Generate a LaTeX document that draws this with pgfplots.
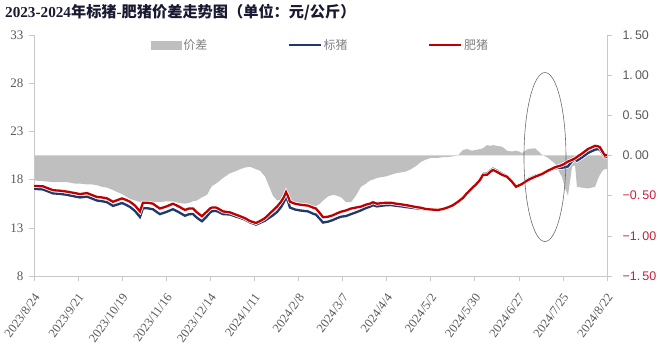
\documentclass[border=0pt]{standalone}
\usepackage{pgfplots}
\pgfplotsset{compat=1.18}
\usepackage{pgfplotstable}
\usepackage{fontspec}
\setmainfont{Liberation Serif}
\newfontfamily\cjk{Noto Sans CJK SC}
\newfontfamily\arialf{Liberation Sans}

\definecolor{spreadgray}{RGB}{191,191,191}
\definecolor{stdblue}{RGB}{31,56,110}
\definecolor{fatred}{RGB}{192,0,0}
\definecolor{axisgray}{RGB}{200,200,200}
\definecolor{labelgray}{RGB}{89,89,89}
\definecolor{legendgray}{RGB}{128,128,128}
\definecolor{negred}{RGB}{200,30,60}
\definecolor{titlecol}{RGB}{25,25,50}

% day = days since 2023/8/24; fat = 肥猪, std = 标猪, spread = 标猪 - 肥猪 (元/公斤)
\pgfplotstableread{
day fat std spread
0 17.35 17.04 -0.31
5.7 17.30 16.98 -0.32
12.1 16.90 16.57 -0.33
16.5 16.85 16.52 -0.33
21.0 16.75 16.42 -0.33
26.0 16.60 16.25 -0.35
29.2 16.50 16.15 -0.35
33.7 16.60 16.24 -0.36
36.8 16.40 16.04 -0.36
40.0 16.20 15.83 -0.37
43.2 16.15 15.76 -0.39
46.4 16.05 15.65 -0.40
50.2 15.70 15.27 -0.43
53.4 15.90 15.44 -0.46
55.9 16.05 15.57 -0.48
58.4 15.90 15.39 -0.51
61.0 15.70 15.16 -0.54
64.2 15.30 14.74 -0.56
67.3 14.70 14.12 -0.58
69.2 15.60 15.02 -0.58
72.4 15.60 15.02 -0.58
75.6 15.50 14.92 -0.58
78.1 15.20 14.62 -0.58
80.0 15.00 14.42 -0.58
83.9 15.20 14.63 -0.57
88.3 15.50 14.93 -0.57
92.1 15.20 14.61 -0.59
95.9 14.85 14.25 -0.60
98.5 15.00 14.41 -0.59
101.0 15.00 14.43 -0.57
103.5 14.60 14.04 -0.56
106.7 14.20 13.68 -0.52
109.9 14.70 14.21 -0.49
111.8 15.00 14.58 -0.42
113.1 15.10 14.72 -0.38
115.6 15.10 14.75 -0.35
116.9 15.00 14.67 -0.33
120.1 14.70 14.42 -0.28
124.5 14.60 14.38 -0.22
127.7 14.40 14.20 -0.20
130.9 14.20 14.03 -0.17
134.0 14.00 13.85 -0.15
137.2 13.70 13.56 -0.14
141.0 13.50 13.33 -0.17
143.6 13.70 13.51 -0.19
146.7 14.00 13.74 -0.26
149.9 14.50 14.09 -0.41
151.8 14.80 14.30 -0.50
154.4 15.20 14.64 -0.56
156.9 15.70 15.15 -0.55
158.8 16.20 15.68 -0.52
160.1 16.70 16.22 -0.48
161.3 16.30 15.75 -0.55
162.6 15.70 15.10 -0.60
165.8 15.50 14.90 -0.60
169.0 15.40 14.80 -0.60
174.1 15.30 14.70 -0.60
177.2 15.10 14.47 -0.63
179.1 15.00 14.37 -0.63
181.7 14.50 13.90 -0.60
183.6 14.10 13.54 -0.56
186.8 14.15 13.64 -0.51
189.9 14.30 13.81 -0.49
192.5 14.50 14.00 -0.50
195.0 14.67 14.15 -0.52
198.2 14.80 14.22 -0.58
201.4 15.00 14.42 -0.58
204.5 15.10 14.60 -0.50
207.7 15.20 14.81 -0.39
210.9 15.40 15.05 -0.35
213.4 15.50 15.19 -0.31
215.3 15.65 15.35 -0.30
217.9 15.50 15.22 -0.28
220.4 15.55 15.28 -0.27
223.6 15.60 15.34 -0.26
226.8 15.60 15.36 -0.24
230.0 15.50 15.28 -0.22
233.1 15.44 15.23 -0.21
236.3 15.35 15.15 -0.20
239.5 15.26 15.09 -0.17
242.7 15.15 15.02 -0.13
245.8 15.08 15.00 -0.08
249.0 14.95 14.90 -0.05
252.2 14.90 14.87 -0.03
256.6 14.85 14.82 -0.03
259.8 14.95 14.93 -0.02
263.0 15.12 15.10 -0.02
266.2 15.35 15.34 -0.01
269.3 15.70 15.70 0.00
272.5 16.10 16.17 0.07
275.1 16.60 16.68 0.08
278.2 17.10 17.16 0.06
280.8 17.50 17.57 0.07
283.3 17.96 18.04 0.08
285.2 18.50 18.59 0.09
287.8 18.50 18.63 0.13
289.7 18.80 18.92 0.12
291.6 19.00 19.13 0.13
294.1 18.80 18.92 0.12
297.3 18.50 18.61 0.11
300.5 18.30 18.36 0.06
303.6 17.78 17.83 0.05
306.2 17.26 17.32 0.06
308.1 17.40 17.45 0.05
310.0 17.54 17.57 0.03
313.8 17.96 18.04 0.08
318.3 18.30 18.39 0.09
322.7 18.58 18.59 0.01
326.5 18.93 18.90 -0.03
331.0 19.28 19.18 -0.10
335.4 19.50 19.23 -0.27
337.3 19.68 19.28 -0.40
339.2 19.87 19.37 -0.50
341.8 20.05 19.91 -0.14
343.7 20.20 20.08 -0.12
344.9 20.35 19.96 -0.39
348.1 20.70 20.30 -0.40
351.9 21.17 20.76 -0.41
356.4 21.50 21.11 -0.39
358.3 21.45 21.16 -0.29
359.5 21.35 21.11 -0.24
361.5 20.80 20.62 -0.18
362.7 20.50 20.33 -0.17
364.0 20.55 20.38 -0.17
}\pricedata

\pgfplotsset{
  commonaxis/.style={
    at={(0pt,0pt)}, anchor=south west,
    scale only axis, width=573pt, height=241pt,
    xmin=0, xmax=364,
    axis line style={draw=axisgray},
    tick style={draw=axisgray, line width=0.6pt},
    major tick length=5pt,
    tick align=outside,
  }
}

\begin{document}
\begin{tikzpicture}
\useasboundingbox (-34pt,-74pt) rectangle (626pt,276pt);

% spread area on the right-hand scale
\begin{axis}[commonaxis,
  axis y line*=right, axis x line=none, xtick=\empty,
  ymin=-1.5, ymax=1.5,
  ytick={-1.5,-1,-0.5,0,0.5,1,1.5},
  yticklabels={\textcolor{negred}{−1.\,50},\textcolor{negred}{−1.\,00},\textcolor{negred}{−0.\,50},0.\,00,0.\,50,1.\,00,1.\,50},
  yticklabel style={font=\arialf\fontsize{12.5}{13}\selectfont, text=labelgray, anchor=west, xshift=7pt},
]
\addplot[fill=spreadgray, draw=none] table[x=day, y=spread]{\pricedata} \closedcycle;
\end{axis}

% price lines on the left-hand scale
\begin{axis}[commonaxis,
  axis y line*=left, axis x line*=bottom,
  ymin=8, ymax=33, ytick={8,13,18,23,28,33},
  yticklabel style={font=\fontsize{13}{13}\selectfont, text=labelgray,
    /pgf/number format/assume math mode=true, xshift=-2pt},
  xtick={0,28,...,364},
  xticklabels={2023/8/24,2023/9/21,2023/10/19,2023/11/16,2023/12/14,2024/1/11,2024/2/8,2024/3/7,2024/4/4,2024/5/2,2024/5/30,2024/6/27,2024/7/25,2024/8/22},
  xticklabel style={font=\fontsize{12.5}{13}\selectfont, text=labelgray,
    yshift=-11pt, xshift=5pt, rotate=54, anchor=east},
  legend columns=3,
  legend image code/.code={\draw[#1] (0pt,0pt) -- (32pt,0pt);},
  legend style={draw=none, fill=none, at={(0.5,0.958)}, anchor=center,
    font=\cjk\fontsize{12}{12}\selectfont, text=legendgray,
    /tikz/every even column/.append style={column sep=78pt}},
]
\addlegendimage{legend image code/.code={\fill[spreadgray] (0pt,-4pt) rectangle (30pt,4pt);}}
\addlegendentry{价差}
\addplot[white, line width=3.8pt, forget plot] table[x=day, y=std]{\pricedata};
\addplot[stdblue, line width=2.3pt] table[x=day, y=std]{\pricedata};
\addlegendentry{标猪}
\addplot[white, line width=3.8pt, forget plot] table[x=day, y=fat]{\pricedata};
\addplot[fatred, line width=2.3pt] table[x=day, y=fat]{\pricedata};
\addlegendentry{肥猪}
\draw[draw=gray!85!black, line width=0.6pt] (axis cs:324.6,20.34) ellipse [x radius=21pt, y radius=84.5pt];
\end{axis}

\node[anchor=west, text=titlecol, font=\bfseries\fontsize{15.2}{16}\selectfont, inner sep=0pt]
  at (-29pt,264pt) {2023-2024{\cjk 年标猪}-{\cjk 肥猪价差走势图（单位：元/公斤）}};
\end{tikzpicture}
\end{document}
